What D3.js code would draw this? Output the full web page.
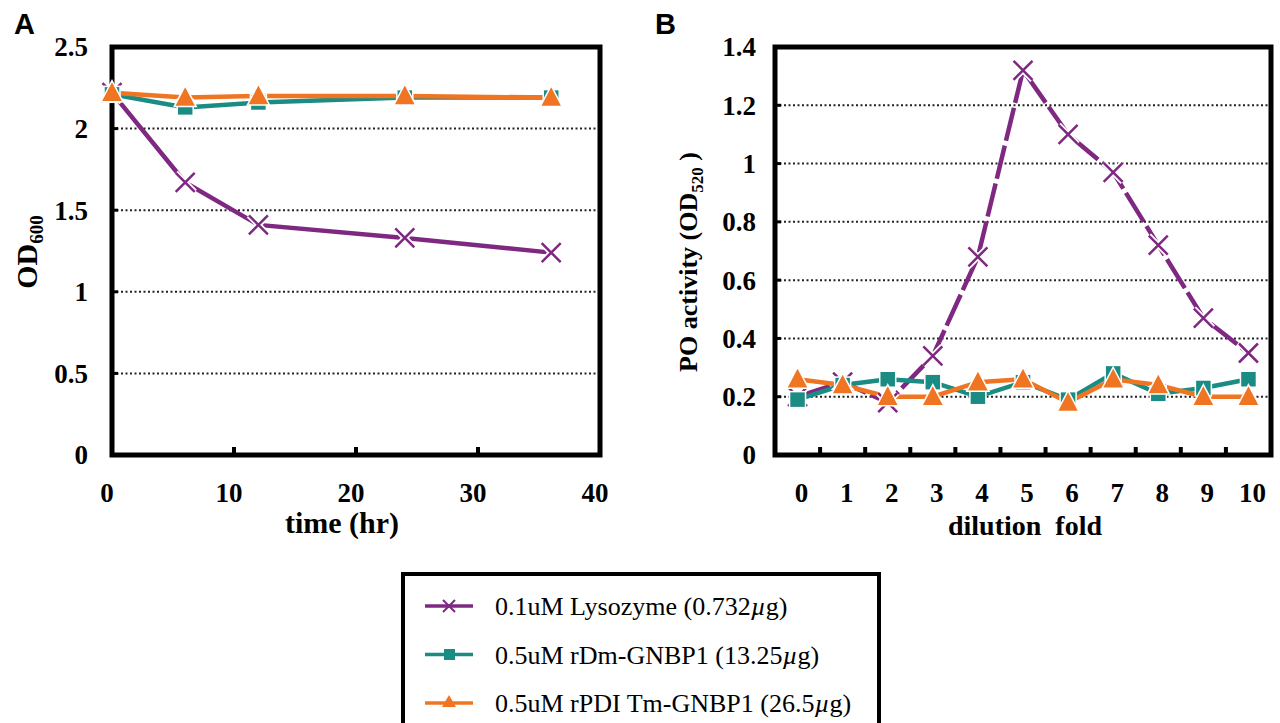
<!DOCTYPE html>
<html>
<head>
<meta charset="utf-8">
<script src="https://cdn.jsdelivr.net/npm/d3@7"></script>
<style>
  body { margin: 0; background: #fff; }
  svg { display: block; }
  .tick-label { font-family: "Liberation Serif", "Times New Roman", serif; font-weight: bold; font-size: 27px; }
</style>
</head>
<body>
<svg id="chart" width="1280" height="723"></svg>
<script>
// panel A: OD600 over time
const timeHr = [0, 6, 12, 24, 36];
const lysozymeA = [2.22, 1.67, 1.41, 1.33, 1.24];
const dmGnbpA = [2.21, 2.13, 2.16, 2.19, 2.19];
const tmGnbpA = [2.22, 2.19, 2.20, 2.20, 2.19];
const yTicksA = [0, 0.5, 1, 1.5, 2, 2.5];
const xTicksA = [0, 10, 20, 30, 40];

// panel B: PO activity by dilution fold
const dilution = ["0", "1", "2", "3", "4", "5", "6", "7", "8", "9", "10"];
const lysozymeB = [0.20, 0.25, 0.18, 0.34, 0.68, 1.32, 1.10, 0.97, 0.72, 0.47, 0.35];
const dmGnbpB = [0.19, 0.24, 0.26, 0.25, 0.20, 0.25, 0.19, 0.28, 0.21, 0.23, 0.26];
const tmGnbpB = [0.26, 0.24, 0.20, 0.20, 0.25, 0.26, 0.18, 0.26, 0.24, 0.20, 0.20];
const yTicksB = [0, 0.2, 0.4, 0.6, 0.8, 1, 1.2, 1.4];

const legendLabels = ["0.1uM Lysozyme (0.732", "0.5uM rDm-GNBP1 (13.25", "0.5uM rPDI Tm-GNBP1 (26.5"];

const purple = "#7e2882", teal = "#1b8c83", orange = "#f07522";
const serif = "'Liberation Serif', 'Times New Roman', serif";

const svg = d3.select("#chart");

// marker drawing helper
function marker(g, type, x, y, color) {
  if (type === "x") {
    const s = 9.5;
    const d = `M${x - s},${y - s}L${x + s},${y + s}M${x - s},${y + s}L${x + s},${y - s}`;
    g.append("path").attr("d", d)
      .attr("stroke", "#fff").attr("stroke-width", 6).attr("fill", "none");
    g.append("path").attr("d", d)
      .attr("stroke", color).attr("stroke-width", 2.5).attr("fill", "none");
  } else if (type === "square") {
    g.append("rect")
      .attr("x", x - 8).attr("y", y - 8).attr("width", 16).attr("height", 16)
      .attr("fill", color).attr("stroke", "#fff").attr("stroke-width", 1.5);
  } else {
    const s = 11;
    g.append("path")
      .attr("d", `M${x},${y - s - 1}L${x + s},${y + s - 2}L${x - s},${y + s - 2}Z`)
      .attr("fill", color).attr("stroke", "#fff").attr("stroke-width", 1.5);
  }
}

// ---------- panel A ----------
const xA = d3.scaleLinear().domain([0, 40]).range([112, 600]);
const yA = d3.scaleLinear().domain([0, 2.5]).range([455, 47]);
const gA = svg.append("g");

// dotted gridlines
gA.selectAll(".grid").data(yTicksA.filter(d => d > 0 && d < 2.5)).enter()
  .append("line")
  .attr("x1", xA(0)).attr("x2", xA(40))
  .attr("y1", d => yA(d)).attr("y2", d => yA(d))
  .attr("stroke", "#222").attr("stroke-width", 2).attr("stroke-dasharray", "2,2.5");

// inward ticks
gA.selectAll(".ytick").data(yTicksA.filter(d => d > 0 && d < 2.5)).enter()
  .append("line")
  .attr("x1", xA(0)).attr("x2", xA(0) + 6)
  .attr("y1", d => yA(d)).attr("y2", d => yA(d))
  .attr("stroke", "#000").attr("stroke-width", 3);
gA.selectAll(".xtick").data(xTicksA.filter(d => d > 0 && d < 40)).enter()
  .append("line")
  .attr("x1", d => xA(d)).attr("x2", d => xA(d))
  .attr("y1", yA(0)).attr("y2", yA(0) - 8)
  .attr("stroke", "#000").attr("stroke-width", 4);

// frame
gA.append("rect")
  .attr("x", xA(0)).attr("y", yA(2.5))
  .attr("width", xA(40) - xA(0)).attr("height", yA(0) - yA(2.5))
  .attr("fill", "none").attr("stroke", "#000").attr("stroke-width", 5);

gA.selectAll(".ylab").data(yTicksA).enter()
  .append("text").attr("class", "tick-label")
  .attr("x", 88).attr("y", d => yA(d))
  .attr("dy", "0.35em").attr("text-anchor", "end")
  .text(d => d);
gA.selectAll(".xlab").data(xTicksA).enter()
  .append("text").attr("class", "tick-label")
  .attr("x", d => xA(d) - 5).attr("y", 493)
  .attr("dy", "0.35em").attr("text-anchor", "middle")
  .text(d => d);

gA.append("text")
  .attr("x", 342).attr("y", 533)
  .attr("text-anchor", "middle")
  .attr("font-family", serif).attr("font-weight", "bold").attr("font-size", 30)
  .text("time (hr)");

const yTitleA = gA.append("text")
  .attr("transform", "translate(37,252) rotate(-90)")
  .attr("text-anchor", "middle")
  .attr("font-family", serif).attr("font-weight", "bold").attr("font-size", 30);
yTitleA.append("tspan").text("OD");
yTitleA.append("tspan").attr("font-size", 19).attr("dy", 6).text("600");

svg.append("text")
  .attr("x", 14).attr("y", 34)
  .attr("font-family", "'Liberation Sans', Arial, sans-serif")
  .attr("font-weight", "bold").attr("font-size", 29)
  .text("A");

const lineA = d3.line().x((d, i) => xA(timeHr[i])).y(d => yA(d));
const seriesA = [
  { values: lysozymeA, color: purple, type: "x" },
  { values: dmGnbpA, color: teal, type: "square" },
  { values: tmGnbpA, color: orange, type: "tri" }
];
seriesA.forEach(s => {
  gA.append("path").datum(s.values)
    .attr("d", lineA)
    .attr("fill", "none").attr("stroke", s.color).attr("stroke-width", 4.5);
});
seriesA.forEach(s => {
  s.values.forEach((v, i) => marker(gA, s.type, xA(timeHr[i]), yA(v), s.color));
});

// ---------- panel B ----------
const xB = d3.scaleBand().domain(dilution).range([775, 1271]);
const xBc = d => xB(d) + xB.bandwidth() / 2;
const yB = d3.scaleLinear().domain([0, 1.4]).range([455, 47]);
const gB = svg.append("g");

gB.selectAll(".grid").data(yTicksB.filter(d => d > 0 && d < 1.4)).enter()
  .append("line")
  .attr("x1", 775).attr("x2", 1271)
  .attr("y1", d => yB(d)).attr("y2", d => yB(d))
  .attr("stroke", "#222").attr("stroke-width", 2).attr("stroke-dasharray", "2,2.5");

gB.selectAll(".ytick").data(yTicksB.filter(d => d > 0 && d < 1.4)).enter()
  .append("line")
  .attr("x1", 775).attr("x2", 781)
  .attr("y1", d => yB(d)).attr("y2", d => yB(d))
  .attr("stroke", "#000").attr("stroke-width", 3);
gB.selectAll(".xtick").data(dilution.slice(1)).enter()
  .append("line")
  .attr("x1", d => xB(d)).attr("x2", d => xB(d))
  .attr("y1", yB(0)).attr("y2", yB(0) - 8)
  .attr("stroke", "#000").attr("stroke-width", 4);

gB.append("rect")
  .attr("x", 775).attr("y", yB(1.4))
  .attr("width", 1271 - 775).attr("height", yB(0) - yB(1.4))
  .attr("fill", "none").attr("stroke", "#000").attr("stroke-width", 5);

gB.selectAll(".ylab").data(yTicksB).enter()
  .append("text").attr("class", "tick-label")
  .attr("x", 756).attr("y", d => yB(d))
  .attr("dy", "0.35em").attr("text-anchor", "end")
  .text(d => d);
gB.selectAll(".xlab").data(dilution).enter()
  .append("text").attr("class", "tick-label")
  .attr("x", d => xBc(d) + 4).attr("y", 493)
  .attr("dy", "0.35em").attr("text-anchor", "middle")
  .text(d => d);

gB.append("text")
  .attr("x", 1025).attr("y", 535)
  .attr("text-anchor", "middle")
  .attr("font-family", serif).attr("font-weight", "bold").attr("font-size", 28)
  .attr("xml:space", "preserve")
  .text("dilution  fold");

const yTitleB = gB.append("text")
  .attr("transform", "translate(697,262) rotate(-90)")
  .attr("text-anchor", "middle")
  .attr("font-family", serif).attr("font-weight", "bold").attr("font-size", 26);
yTitleB.append("tspan").text("PO activity (OD");
yTitleB.append("tspan").attr("font-size", 17).attr("dy", 6).text("520");
yTitleB.append("tspan").attr("dy", -6).attr("xml:space", "preserve").text(" )");

svg.append("text")
  .attr("x", 655).attr("y", 34)
  .attr("font-family", "'Liberation Sans', Arial, sans-serif")
  .attr("font-weight", "bold").attr("font-size", 29)
  .text("B");

const lineB = d3.line().x((d, i) => xBc(dilution[i])).y(d => yB(d));
const seriesB = [
  { values: lysozymeB, color: purple, type: "x", dash: "34,5" },
  { values: dmGnbpB, color: teal, type: "square", dash: null },
  { values: tmGnbpB, color: orange, type: "tri", dash: null }
];
seriesB.forEach(s => {
  gB.append("path").datum(s.values)
    .attr("d", lineB)
    .attr("fill", "none").attr("stroke", s.color).attr("stroke-width", 4.5)
    .attr("stroke-dasharray", s.dash);
});
seriesB.forEach(s => {
  s.values.forEach((v, i) => marker(gB, s.type, xBc(dilution[i]), yB(v), s.color));
});

// ---------- legend ----------
const lg = svg.append("g");
lg.append("rect")
  .attr("x", 403).attr("y", 574).attr("width", 476).attr("height", 170)
  .attr("fill", "#fff").attr("stroke", "#000").attr("stroke-width", 4);
const legendColors = [purple, teal, orange];
const legendTypes = ["x", "square", "tri"];
legendLabels.forEach((lab, i) => {
  const y = 606 + i * 48.5;
  lg.append("line").attr("x1", 425).attr("x2", 473).attr("y1", y).attr("y2", y)
    .attr("stroke", legendColors[i]).attr("stroke-width", 3.5);
  const g = lg.append("g");
  if (legendTypes[i] === "x") {
    g.append("path").attr("d", `M${443},${y - 6}L${455},${y + 6}M${443},${y + 6}L${455},${y - 6}`)
      .attr("stroke", purple).attr("stroke-width", 2).attr("fill", "none");
  } else if (legendTypes[i] === "square") {
    g.append("rect").attr("x", 444).attr("y", y - 5.5).attr("width", 11).attr("height", 11).attr("fill", teal);
  } else {
    g.append("path").attr("d", `M449,${y - 8}L456,${y + 4}L442,${y + 4}Z`).attr("fill", orange);
  }
  const t = lg.append("text")
    .attr("x", 495).attr("y", y + 9)
    .attr("font-family", serif).attr("font-size", 26);
  t.append("tspan").text(lab);
  t.append("tspan").attr("font-style", "italic").text("\u00b5");
  t.append("tspan").text("g)");
});
</script>
</body>
</html>
